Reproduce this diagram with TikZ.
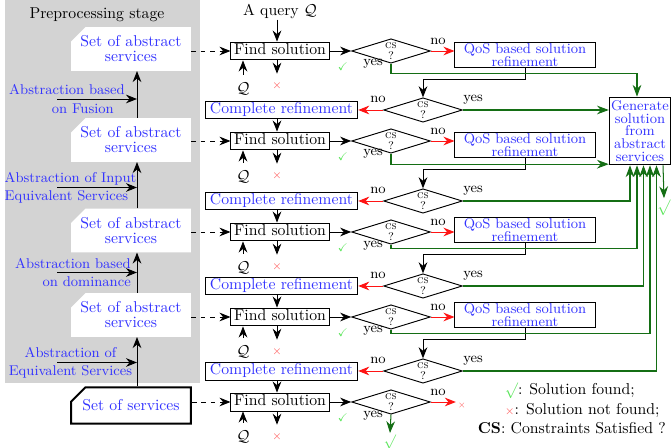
\documentclass[tikz,border=0pt]{standalone}
\usepackage{amssymb}
\usepackage{tikz}
\usetikzlibrary{shapes,arrows.meta,positioning,calc}
\newcommand{\csq}{\textsc{cs}\\[-1pt]?}
\definecolor{absblue}{RGB}{51, 51, 255}
\definecolor{yesgreen}{RGB}{20, 110, 20}
\definecolor{okgreen}{RGB}{90, 230, 90}
\definecolor{nored}{RGB}{255, 20, 20}
\definecolor{xred}{RGB}{255, 90, 90}
\definecolor{stagegray}{RGB}{211, 211, 211}
\tikzstyle{findbox} = [rectangle, draw=black, line width=0.6pt, fill=white, text=black, font=\normalsize, inner xsep=2pt, inner ysep=1.2pt, text height=7pt, text depth=2pt]
\tikzstyle{refbox} = [findbox, text=absblue, inner xsep=3pt]
\tikzstyle{qosbox} = [rectangle, draw=black, line width=0.6pt, fill=white, text=absblue, font=\small, align=center, minimum width=89pt, minimum height=15.5pt, inner sep=0.5pt]
\tikzstyle{genbox} = [qosbox, minimum width=39pt, minimum height=43pt]
\tikzstyle{csdiam} = [diamond, aspect=3, draw=black, line width=0.6pt, fill=white, minimum width=50pt, minimum height=15.5pt, inner sep=0pt, align=center, font=\scriptsize]
\tikzstyle{absbox} = [chamfered rectangle, chamfered rectangle corners=north west, chamfered rectangle sep=4.5pt, fill=white, text=absblue, align=center, font=\normalsize, minimum width=76pt, minimum height=23pt, inner sep=1pt]
\tikzstyle{srvbox} = [absbox, draw=black, line width=1.3pt]
\tikzstyle{absnote} = [text=absblue, font=\small, inner sep=0pt]
\tikzstyle{textonly} = [draw=none, fill=none, text=black, inner sep=1pt]
\tikzstyle{small} = [textonly, font=\small]
\tikzstyle{okmark} = [textonly, text=okgreen]
\tikzstyle{failmark} = [textonly, text=xred, font=\scriptsize]
\tikzstyle{tedge} = [draw, line width=0.6pt, -{Stealth[length=7pt, width=5.5pt]}]
\tikzstyle{nedge} = [tedge, nored]
\tikzstyle{yedge} = [draw, line width=0.65pt, yesgreen, -{Stealth[length=7.5pt, width=5.5pt]}]

\begin{document}
\begin{tikzpicture}[x=0.635pt, y=-0.635pt]
\path[use as bounding box, fill=white] (0,0) rectangle (671,448);

% preprocessing stage =============================
\fill[stagegray] (5,-5) rectangle (200,383);
\node[textonly] (stage) at (97,15) {Preprocessing stage};

\node[absbox] (ab1) at (131,49) {Set of abstract\\[-2.5pt]services};
\node[absbox] (ab2) at (131,140) {Set of abstract\\[-2.5pt]services};
\node[absbox] (ab3) at (131,230.5) {Set of abstract\\[-2.5pt]services};
\node[absbox] (ab4) at (131,315) {Set of abstract\\[-2.5pt]services};
\node[srvbox] (srv) at (131,405.5) {Set of services};

\node[absnote, align=right] (fusion) at (67,99) {Abstraction based\\[0.5pt]on Fusion\hspace*{7pt}};
\node[absnote, align=left] (inputeq) at (70.5,187.5) {Abstraction of Input\\[0.5pt]Equivalent Services};
\node[absnote, align=right] (domin) at (73,272.5) {Abstraction based\\[0.5pt]on dominance};
\node[absnote, align=center] (equiv) at (70.5,362.5) {Abstraction of\\[0.5pt]Equivalent Services};

\coordinate (spine) at (137,0);
\coordinate (tail) at (57,0);

\path[tedge] (srv.north -| spine) -- (ab4.south -| spine);
\path[tedge] (ab4.north -| spine) -- (ab3.south -| spine);
\path[tedge] (ab3.north -| spine) -- (ab2.south -| spine);
\path[tedge] (ab2.north -| spine) -- (ab1.south -| spine);
\path[tedge] (tail |- fusion) -- (spine |- fusion);
\path[tedge] (tail |- inputeq) -- (spine |- inputeq);
\path[tedge] (tail |- domin) -- (spine |- domin);
\path[tedge] (tail |- equiv) -- (spine |- equiv);

% solution search =============================
\coordinate (midx) at (277,0);
\node[textonly, anchor=base, inner sep=0pt] (query) at (280,16) {A query $\mathcal{Q}$};
\node[genbox] (gen) at (640,131) {Generate\\[-3pt]solution\\[-3pt]from\\[-3pt]abstract\\[-3pt]services};
\coordinate (lane1) at (630,0);
\coordinate (lane2) at (637,0);
\coordinate (lane3) at (643.5,0);
\coordinate (lane4) at (650,0);
\coordinate (lane5) at (656.5,0);
\coordinate (lane6) at (663,0);

\node[findbox] (fs1) at (280,51) {Find solution};
\node[csdiam] (cs1) at (391,51) {\csq};
\node[qosbox] (qos1) at (525,55) {QoS based solution\\[-3pt]refinement};
\node[refbox] (cr1) at (281.5,110) {Complete refinement};
\node[csdiam] (csr1) at (423,110) {\csq};

\node[findbox] (fs2) at (280,141) {Find solution};
\node[csdiam] (cs2) at (391,141) {\csq};
\node[qosbox] (qos2) at (525,145) {QoS based solution\\[-3pt]refinement};
\node[refbox] (cr2) at (281.5,201) {Complete refinement};
\node[csdiam] (csr2) at (423,201) {\csq};

\node[findbox] (fs3) at (280,232) {Find solution};
\node[csdiam] (cs3) at (391,232) {\csq};
\node[qosbox] (qos3) at (525,230) {QoS based solution\\[-3pt]refinement};
\node[refbox] (cr3) at (281.5,286) {Complete refinement};
\node[csdiam] (csr3) at (423,286) {\csq};

\node[findbox] (fs4) at (280,317) {Find solution};
\node[csdiam] (cs4) at (391,317) {\csq};
\node[qosbox] (qos4) at (525,315) {QoS based solution\\[-3pt]refinement};
\node[refbox] (cr4) at (281.5,371) {Complete refinement};
\node[csdiam] (csr4) at (423,371) {\csq};

\node[findbox] (fs5) at (280,402) {Find solution};
\node[csdiam] (cs5) at (391,402) {\csq};

% marks and labels
\node[textonly] (q1) at (243,89) {$\mathcal{Q}$};
\node[failmark] (x1) at (277,86) {$\times$};
\node[okmark, font=\scriptsize] (ok1) at (343,67) {$\checkmark$};
\node[small] (yes1) at (373,64) {yes};
\node[small] (no1) at (438,41) {no};
\node[small] (nor1) at (378,99) {no};
\node[small] (yesr1) at (473,100) {yes};

\node[textonly] (q2) at (243,177) {$\mathcal{Q}$};
\node[failmark] (x2) at (277,176) {$\times$};
\node[okmark, font=\scriptsize] (ok2) at (343,157) {$\checkmark$};
\node[small] (yes2) at (373,154) {yes};
\node[small] (no2) at (438,131) {no};
\node[small] (nor2) at (378,190) {no};
\node[small] (yesr2) at (473,191) {yes};

\node[textonly] (q3) at (243,268) {$\mathcal{Q}$};
\node[failmark] (x3) at (277,267) {$\times$};
\node[okmark, font=\scriptsize] (ok3) at (343,248) {$\checkmark$};
\node[small] (yes3) at (373,246) {yes};
\node[small] (no3) at (438,222) {no};
\node[small] (nor3) at (378,275) {no};
\node[small] (yesr3) at (473,276) {yes};

\node[textonly] (q4) at (243,352) {$\mathcal{Q}$};
\node[failmark] (x4) at (277,352) {$\times$};
\node[okmark, font=\scriptsize] (ok4) at (343,333) {$\checkmark$};
\node[small] (yes4) at (373,331) {yes};
\node[small] (no4) at (438,307) {no};
\node[small] (nor4) at (378,360) {no};
\node[small] (yesr4) at (473,361) {yes};

\node[textonly] (q5) at (243,437) {$\mathcal{Q}$};
\node[failmark] (x5) at (277,437) {$\times$};
\node[okmark, font=\scriptsize] (ok5) at (343,418) {$\checkmark$};
\node[small] (yes5) at (373,416) {yes};
\node[small] (no5) at (438,392) {no};
\node[failmark, font=\tiny] (xn5) at (462,406) {$\times$};
\node[okmark, font=\small] (fin) at (390,442) {$\surd$};
\node[okmark] (done) at (664,208) {$\surd$};

% legend
\node[textonly, anchor=base west] (legok) at (503,395) {\textcolor{okgreen}{$\surd$}: Solution found;};
\node[textonly, anchor=base west] (legno) at (503,415) {\textcolor{xred}{\scriptsize$\times$}: Solution not found;};
\node[textonly, anchor=base west] (legcs) at (476,434) {\textbf{CS}: Constraints Satisfied ?};

% edges
\path[tedge] (query.south -| midx) -- (fs1.north -| midx);
\path[tedge, dashed] (fs1.west -| ab1.east) -- (fs1.west);
\path[tedge, dashed] (fs2.west -| ab2.east) -- (fs2.west);
\path[tedge, dashed] (fs3.west -| ab3.east) -- (fs3.west);
\path[tedge, dashed] (fs4.west -| ab4.east) -- (fs4.west);
\path[tedge, dashed] (fs5.west -| srv.east) -- (fs5.west);

\path[tedge, shorten <=4pt] (q1.north) -- (q1 |- fs1.south);
\path[tedge, shorten <=4pt] (q2.north) -- (q2 |- fs2.south);
\path[tedge, shorten <=4pt] (q3.north) -- (q3 |- fs3.south);
\path[tedge, shorten <=4pt] (q4.north) -- (q4 |- fs4.south);
\path[tedge, shorten <=4pt] (q5.north) -- (q5 |- fs5.south);
\path[tedge, shorten >=4pt] (fs1.south -| x1) -- (x1.north);
\path[tedge, shorten >=4pt] (fs2.south -| x2) -- (x2.north);
\path[tedge, shorten >=4pt] (fs3.south -| x3) -- (x3.north);
\path[tedge, shorten >=4pt] (fs4.south -| x4) -- (x4.north);
\path[tedge, shorten >=4pt] (fs5.south -| x5) -- (x5.north);

\path[tedge] (fs1.east) -- (cs1.west);
\path[tedge] (fs2.east) -- (cs2.west);
\path[tedge] (fs3.east) -- (cs3.west);
\path[tedge] (fs4.east) -- (cs4.west);
\path[tedge] (fs5.east) -- (cs5.west);

\path[nedge] (cs1.east) -- (cs1.east -| qos1.west);
\path[nedge] (cs2.east) -- (cs2.east -| qos2.west);
\path[nedge] (cs3.east) -- (cs3.east -| qos3.west);
\path[nedge] (cs4.east) -- (cs4.east -| qos4.west);
\path[nedge] (cs5.east) -- (cs5.east -| xn5.west);

\path[tedge] (qos1.south) -- ++(0,12) -| (csr1.north);
\path[tedge] (qos2.south) -- ++(0,12) -| (csr2.north);
\path[tedge] (qos3.south) -- ++(0,12) -| (csr3.north);
\path[tedge] (qos4.south) -- ++(0,12) -| (csr4.north);

\path[nedge] (csr1.west) -- (cr1.east);
\path[nedge] (csr2.west) -- (cr2.east);
\path[nedge] (csr3.west) -- (cr3.east);
\path[nedge] (csr4.west) -- (cr4.east);

\path[tedge] (cr1.south -| midx) -- (fs2.north -| midx);
\path[tedge] (cr2.south -| midx) -- (fs3.north -| midx);
\path[tedge] (cr3.south -| midx) -- (fs4.north -| midx);
\path[tedge] (cr4.south -| midx) -- (fs5.north -| midx);

% yes edges to generation
\path[yedge] (cs1.south) -- ++(0,9.5) -| (gen.north -| lane2);
\path[yedge] (csr1.east) -- (csr1.east -| gen.west);
\path[yedge] (cs2.south) -- ++(0,10.5) coordinate (bend2) -- (bend2 -| gen.west);
\path[yedge] (csr2.east) -| (gen.south -| lane1);
\path[yedge] (cs3.south) -- ++(0,3.5) -| (gen.south -| lane2);
\path[yedge] (csr3.east) -| (gen.south -| lane3);
\path[yedge] (cs4.south) -- ++(0,3.5) -| (gen.south -| lane4);
\path[yedge] (csr4.east) -| (gen.south -| lane5);
\path[yedge] (gen.south -| lane6) -- (done.north);
\path[yedge] (cs5.south) -- (fin.north);

\end{tikzpicture}
\end{document}
